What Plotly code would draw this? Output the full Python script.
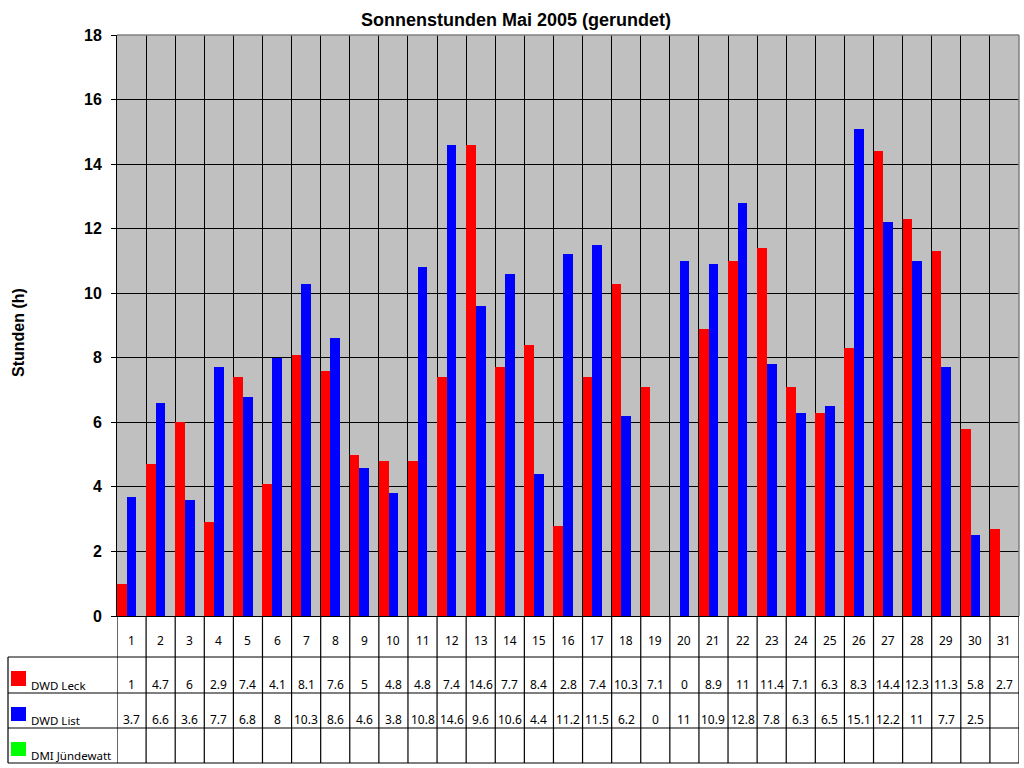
import plotly.graph_objects as go

# ---- data ----
days = list(range(1, 32))
series_names = ["DWD Leck", "DWD List", "DMI Jündewatt"]
leck = [1, 4.7, 6, 2.9, 7.4, 4.1, 8.1, 7.6, 5, 4.8, 4.8, 7.4, 14.6, 7.7, 8.4, 2.8,
        7.4, 10.3, 7.1, 0, 8.9, 11, 11.4, 7.1, 6.3, 8.3, 14.4, 12.3, 11.3, 5.8, 2.7]
list_ = [3.7, 6.6, 3.6, 7.7, 6.8, 8, 10.3, 8.6, 4.6, 3.8, 10.8, 14.6, 9.6, 10.6, 4.4, 11.2,
         11.5, 6.2, 0, 11, 10.9, 12.8, 7.8, 6.3, 6.5, 15.1, 12.2, 11, 7.7, 2.5, None]
dmi = [None] * 31
colors = ["#FF0000", "#0000FF", "#00FF00"]
y_ticks = list(range(0, 19, 2))

# ---- layout geometry (pixels) ----
W, H = 1024, 768
L, R, T, B = 117, 1019, 35, 616


def py(p):  # pixel y -> paper y
    return (B - p) / (B - T)


def px(p):  # pixel x -> paper x
    return (p - L) / (R - L)


fig = go.Figure()
for name, vals, col in zip(series_names, [leck, list_, dmi], colors):
    fig.add_trace(go.Bar(x=days, y=vals, name=name, marker=dict(color=col, line=dict(width=0)),
                         showlegend=False))

shapes = []
annotations = []
# table vertical lines at category boundaries
bounds = [d - 0.5 for d in days] + [days[-1] + 0.5]
for b in bounds:
    shapes.append(dict(type="line", xref="x", yref="paper", x0=b, x1=b, y0=0, y1=py(763),
                       line=dict(color="black", width=1.2), layer="above"))
# left border of row-label column
shapes.append(dict(type="line", xref="paper", yref="paper", x0=px(8), x1=px(8),
                   y0=py(657), y1=py(763), line=dict(color="black", width=1.2)))
# horizontal table lines
for yy in [657, 693, 728, 763]:
    shapes.append(dict(type="line", xref="paper", yref="paper", x0=px(8), x1=1,
                       y0=py(yy), y1=py(yy), line=dict(color="black", width=1.2)))
# plot area top/right border (gray)
shapes.append(dict(type="line", xref="paper", yref="paper", x0=0, x1=1, y0=1, y1=1,
                   line=dict(color="#808080", width=1.5), layer="above"))
shapes.append(dict(type="line", xref="paper", yref="paper", x0=1, x1=1, y0=0, y1=1,
                   line=dict(color="#808080", width=1.5), layer="above"))

tfont = dict(family="Noto Sans", size=12, color="black")
lfont = dict(family="Noto Sans", size=11.5, color="black")
# day numbers
for d in days:
    annotations.append(dict(x=d, y=py(641), xref="x", yref="paper", text=str(d),
                            showarrow=False, font=tfont, xanchor="center", yanchor="middle"))


def fmt(v):
    if v is None:
        return ""
    return str(int(v)) if float(v).is_integer() else str(v)


row_y = [684, 719, 755]
sq_y = [(671, 686), (707, 721), (742, 756)]
for vals, ry, (s0, s1), col, name in zip([leck, list_, dmi], row_y, sq_y, colors, series_names):
    for d, v in zip(days, vals):
        t = fmt(v)
        if t:
            annotations.append(dict(x=d, y=py(ry), xref="x", yref="paper", text=t,
                                    showarrow=False, font=tfont, xanchor="center", yanchor="middle"))
    shapes.append(dict(type="rect", xref="paper", yref="paper", x0=px(11), x1=px(26),
                       y0=py(s1), y1=py(s0), fillcolor=col, line=dict(width=0)))
    annotations.append(dict(x=px(29), y=py(ry + 1), xref="paper", yref="paper", text=name,
                            showarrow=False, font=lfont, xanchor="left", yanchor="middle"))

# y axis title
annotations.append(dict(x=px(18), y=py(333), xref="paper", yref="paper", text="Stunden (h)",
                        textangle=-90, showarrow=False,
                        font=dict(family="Liberation Sans, Arial", size=16, color="black", weight="bold"),
                        xanchor="center", yanchor="middle"))

fig.update_layout(
    width=W, height=H,
    margin=dict(l=L, r=W - R, t=T, b=H - B),
    paper_bgcolor="white", plot_bgcolor="#C0C0C0",
    barmode="group", bargap=0, bargroupgap=0,
    title=dict(text="Sonnenstunden Mai 2005 (gerundet)", x=516 / W, y=1 - 20 / H,
               xanchor="center", yanchor="middle", xref="container", yref="container",
               font=dict(family="Liberation Sans, Arial", size=18, color="black", weight="bold")),
    shapes=shapes, annotations=annotations,
    xaxis=dict(range=[0.5, 31.5], showticklabels=False, ticks="", showgrid=False,
               zeroline=False, showline=True, linecolor="black", linewidth=1,
               minor=dict(tick0=0.5, dtick=1, showgrid=True, gridcolor="black", gridwidth=1)),
    yaxis=dict(range=[0, 18], tickvals=y_ticks, showgrid=True, gridcolor="black", gridwidth=1,
               ticks="outside", ticklen=5, tickcolor="black", tickwidth=1,
               showline=True, linecolor="black", linewidth=1, zeroline=False,
               ticklabelstandoff=6,
               tickfont=dict(family="Liberation Sans, Arial", size=16, color="black", weight="bold")),
    showlegend=False,
)

fig.write_html("out.html")
